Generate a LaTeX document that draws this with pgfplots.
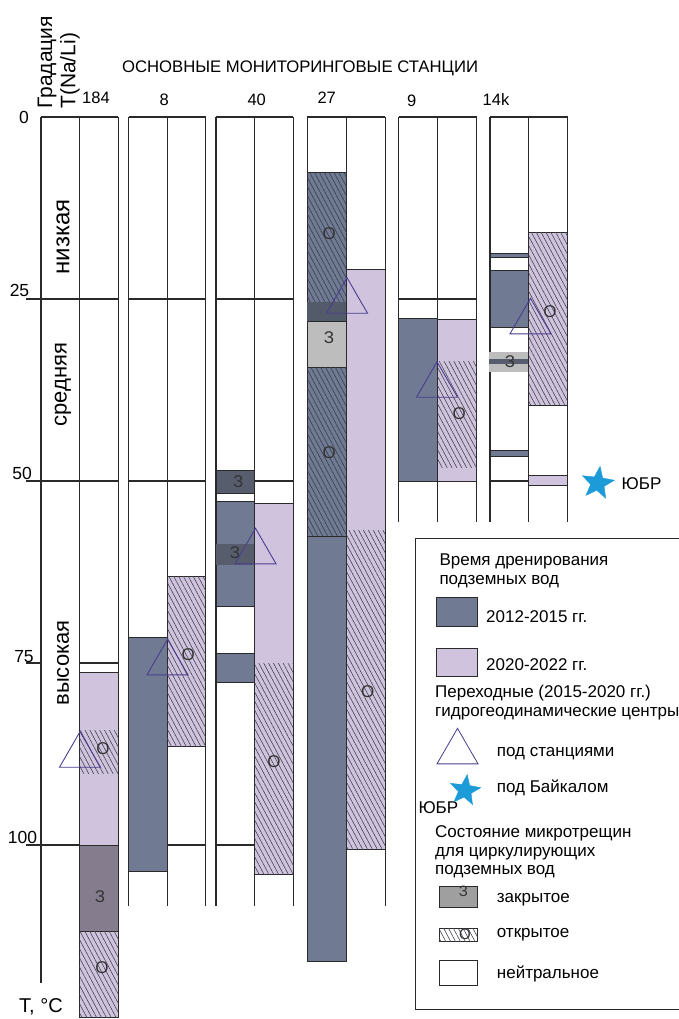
\documentclass[border=0pt]{standalone}
\usepackage{fontspec}
\setmainfont{Liberation Sans}
\usepackage{pgfplots}
\pgfplotsset{compat=1.18}
\usetikzlibrary{patterns.meta}

\definecolor{early}{HTML}{707A93}
\definecolor{late}{HTML}{CFC3DE}
\definecolor{edge}{HTML}{2A2A2A}
\definecolor{tri}{HTML}{4A3D8F}
\definecolor{rift}{HTML}{1C9BD8}
\definecolor{shutlight}{HTML}{BDBDBD}
\definecolor{shutdark}{HTML}{575D6C}
\definecolor{shutlate}{HTML}{857D8E}
\definecolor{band}{HTML}{535A6A}
\definecolor{hatchA}{HTML}{45454F}
\definecolor{hatchB}{HTML}{363D4E}

% open triangle whose circumradius is the mark size
\pgfdeclareplotmark{otri}{%
  \pgfpathmoveto{\pgfpointpolar{90}{\pgfplotmarksize}}%
  \pgfpathlineto{\pgfpointpolar{210}{\pgfplotmarksize}}%
  \pgfpathlineto{\pgfpointpolar{330}{\pgfplotmarksize}}%
  \pgfpathclose\pgfusepathqstroke}
% filled five-pointed star
\pgfdeclareplotmark{bstar}{%
  \pgfpathmoveto{\pgfpointpolar{82}{\pgfplotmarksize}}%
  \pgfpathlineto{\pgfpointpolar{118}{0.42\pgfplotmarksize}}%
  \pgfpathlineto{\pgfpointpolar{154}{\pgfplotmarksize}}%
  \pgfpathlineto{\pgfpointpolar{190}{0.42\pgfplotmarksize}}%
  \pgfpathlineto{\pgfpointpolar{226}{\pgfplotmarksize}}%
  \pgfpathlineto{\pgfpointpolar{262}{0.42\pgfplotmarksize}}%
  \pgfpathlineto{\pgfpointpolar{298}{\pgfplotmarksize}}%
  \pgfpathlineto{\pgfpointpolar{334}{0.42\pgfplotmarksize}}%
  \pgfpathlineto{\pgfpointpolar{10}{\pgfplotmarksize}}%
  \pgfpathlineto{\pgfpointpolar{46}{0.42\pgfplotmarksize}}%
  \pgfpathclose\pgfusepathqfillstroke}

% rectangle spanning x1..x2 and temperature T1..T2
\newcommand{\blk}[5][]{\addplot[#1] coordinates {(#2,#4) (#3,#4) (#3,#5) (#2,#5)} -- cycle;}
% straight segment
\newcommand{\seg}[4]{\addplot[gridln] coordinates {(#1,#2) (#3,#4)};}

\tikzset{
  gridln/.style={draw=edge, line width=1.1pt},
  e12/.style={fill=early, draw=edge, line width=0.9pt},
  e20/.style={fill=late, draw=edge, line width=0.9pt},
  hatch/.style={draw=none, pattern={Lines[angle=-62,distance=4.3pt,line width=0.6pt]}, pattern color=hatchA},
  hatchd/.style={draw=none, pattern={Lines[angle=-62,distance=4.3pt,line width=0.6pt]}, pattern color=hatchB},
  txt/.style={font=\fontsize{17}{20}\selectfont, text=black, inner sep=0pt},
  mk/.style={font=\fontsize{17}{20}\selectfont, text=black!80, inner sep=0pt},
  tk/.style={font=\fontsize{16.5}{19}\selectfont, text=black, inner sep=0pt},
}

\begin{document}
\begin{tikzpicture}
\begin{axis}[
  scale only axis, width=678pt, height=1019pt,
  xmin=0, xmax=678, ymin=-16.071, ymax=123.901,
  y dir=reverse, hide axis, clip=false,
]
% ---- column frames ----
% 184
\seg{41}{0}{118.3}{0}
\seg{41}{0}{41}{118.96}
\seg{79.3}{0}{79.3}{123.72}
\seg{118.3}{0}{118.3}{123.72}
% 8
\seg{128.7}{0}{205.7}{0}
\seg{128.7}{0}{128.7}{108.38}
\seg{167.3}{0}{167.3}{108.38}
\seg{205.7}{0}{205.7}{108.38}
% 40
\seg{216}{0}{293.3}{0}
\seg{216}{0}{216}{108.38}
\seg{254.7}{0}{254.7}{108.38}
\seg{293.3}{0}{293.3}{108.38}
% 27
\seg{307.3}{0}{385.3}{0}
\seg{307.3}{0}{307.3}{116.03}
\seg{346.7}{0}{346.7}{116.03}
\seg{385.3}{0}{385.3}{108.38}
% 9
\seg{398.7}{0}{476.7}{0}
\seg{398.7}{0}{398.7}{55.63}
\seg{437.7}{0}{437.7}{55.63}
\seg{476.7}{0}{476.7}{55.63}
% 14k
\seg{490}{0}{567.7}{0}
\seg{490}{0}{490}{55.63}
\seg{528.7}{0}{528.7}{55.63}
\seg{567.7}{0}{567.7}{55.63}
% ---- gradation levels ----
\seg{26}{25}{118.3}{25}
\seg{128.7}{25}{205.7}{25}
\seg{216}{25}{293.3}{25}
\seg{398.7}{25}{476.7}{25}
\seg{26}{50}{118.3}{50}
\seg{128.7}{50}{205.7}{50}
\seg{254.7}{50}{293.3}{50}
\seg{490}{50}{528.7}{50}
\seg{26}{75}{41}{75}
\seg{79.3}{75}{118.3}{75}
\seg{26}{100}{79.3}{100}
\seg{167.3}{100}{205.7}{100}
\seg{216}{100}{254.7}{100}

% ---- station 184 ----
\blk[e20]{79.3}{118.3}{76.33}{100}
\blk[hatch]{79.3}{118.3}{84.27}{90.18}
\blk[fill=shutlate, draw=edge, line width=0.9pt]{79.3}{118.3}{100}{111.91}
\blk[e20]{79.3}{118.3}{111.91}{123.72}
\blk[hatch]{79.3}{118.3}{111.91}{123.72}
% ---- station 8 ----
\blk[e12]{128.7}{167.3}{71.47}{103.57}
\blk[e20]{167.3}{205.7}{63.15}{86.50}
\blk[hatch]{167.3}{205.7}{63.15}{86.50}
% ---- station 40 ----
\blk[fill=shutdark, draw=edge, line width=0.9pt]{216}{254.7}{48.49}{51.69}
\blk[e12]{216}{254.7}{52.84}{67.27}
\blk[fill=shutdark, draw=none]{216}{254.7}{58.65}{61.54}
\blk[e12]{216}{254.7}{73.67}{77.68}
\blk[e20]{254.7}{293.3}{53.02}{104.0}
\blk[hatch]{254.7}{293.3}{75.04}{104.0}
% ---- station 27 ----
\blk[e12]{307.3}{346.7}{7.65}{57.55}
\blk[hatchd]{307.3}{346.7}{7.65}{25.37}
\blk[fill=band, draw=none]{307.3}{346.7}{25.37}{28.12}
\blk[fill=shutlight, draw=edge, line width=0.5pt]{307.3}{346.7}{28.12}{34.44}
\blk[hatchd]{307.3}{346.7}{34.44}{57.55}
\blk[e12]{307.3}{346.7}{57.55}{116.03}
\blk[e20]{346.7}{385.3}{20.92}{100.59}
\blk[hatch]{346.7}{385.3}{56.83}{100.59}
% ---- station 9 ----
\blk[e12]{398.7}{437.7}{27.65}{50}
\blk[e20]{437.7}{476.7}{27.79}{50}
\blk[hatch]{437.7}{476.7}{33.61}{48.17}
% ---- station 14k ----
\blk[e12]{490}{528.7}{18.72}{19.27}
\blk[e12]{490}{528.7}{21.02}{28.94}
\blk[fill=shutlight, draw=none]{489}{529}{32.24}{34.99}
\blk[fill=shutdark, draw=none]{489}{529}{33.24}{33.93}
\blk[e12]{490}{528.7}{45.84}{46.57}
\blk[e20]{528.7}{567.7}{15.89}{39.56}
\blk[hatch]{528.7}{567.7}{15.89}{39.56}
\blk[e20]{528.7}{567.7}{49.18}{50.55}

% ---- transitional centres under stations ----
\addplot[only marks, mark=otri, mark size=23.7pt,
  mark options={draw=tri, line width=0.9pt}]
  coordinates {(80,87.69) (167.5,75.0) (255.5,59.75) (347,25.33) (437,36.87) (530.5,28.16)};
% ---- centre under Baikal ----
\addplot[only marks, mark=bstar, mark size=17pt,
  mark options={fill=rift, draw=rift, line width=0.4pt}]
  coordinates {(597.7,50.3)};
\node[txt, anchor=west] at (621.5,50.3) {ЮБР};

% ---- microfracture state marks ----
\node[mk] at (100,107.1) {З};
\node[mk] at (102,116.9) {О};
\node[mk] at (103,86.8) {О};
\node[mk] at (188.3,73.8) {О};
\node[mk] at (238.3,50.1) {З};
\node[mk] at (235,59.9) {З};
\node[mk] at (274,88.6) {О};
\node[mk] at (329.3,16.07) {О};
\node[mk] at (329,30.27) {З};
\node[mk] at (329.3,46.15) {О};
\node[mk] at (367.7,79.0) {О};
\node[mk] at (459.3,40.7) {О};
\node[mk] at (510,33.65) {З};
\node[mk] at (550,26.74) {О};

% ---- titles and scale ----
\node[txt, font=\fontsize{16.7}{20}\selectfont] at (300,-6.69) {ОСНОВНЫЕ МОНИТОРИНГОВЫЕ СТАНЦИИ};
\node[tk] at (96,-2.6) {184};
\node[tk] at (164.3,-2.4) {8};
\node[tk] at (256.7,-2.4) {40};
\node[tk] at (326.7,-2.6) {27};
\node[tk] at (411.7,-2.2) {9};
\node[tk] at (496,-2.4) {14k};
\node[tk, rotate=90, anchor=west, font=\fontsize{21}{24}\selectfont] at (47,-1.1) {Градация};
\node[tk, rotate=90, anchor=west, font=\fontsize{21}{24}\selectfont] at (70,-1.1) {T(Na/Li)};
\node[tk, font=\fontsize{17.5}{20}\selectfont] at (24,0.1) {0};
\node[tk, font=\fontsize{17.5}{20}\selectfont] at (19.5,23.8) {25};
\node[tk, font=\fontsize{17.5}{20}\selectfont] at (22.2,48.9) {50};
\node[tk, font=\fontsize{17.5}{20}\selectfont] at (24,74.1) {75};
\node[tk, font=\fontsize{17.5}{20}\selectfont] at (22.5,98.9) {100};
\node[tk, font=\fontsize{20}{24}\selectfont] at (41,122.2) {T, °C};
\node[tk, rotate=90, font=\fontsize{24}{28}\selectfont] at (63,16.5) {низкая};
\node[tk, rotate=90, font=\fontsize{22}{26}\selectfont] at (63,36.8) {средняя};
\node[tk, rotate=90, font=\fontsize{22}{26}\selectfont] at (63,75.0) {высокая};

% ---- key ----
\blk[fill=white, draw=edge, line width=0.9pt]{415}{700}{57.87}{122.53}
\node[txt, anchor=west] at (439.3,61.09) {Время дренирования};
\node[txt, anchor=west] at (439.3,63.83) {подземных вод};
\blk[e12]{436.7}{477.3}{65.98}{70.01}
\node[txt, anchor=west] at (486,68.64) {2012-2015 гг.};
\blk[e20]{436.7}{477.3}{72.98}{76.88}
\node[txt, anchor=west] at (486,75.27) {2020-2022 гг.};
\node[txt, anchor=west] at (435,79.16) {Переходные (2015-2020 гг.)};
\node[txt, anchor=west] at (435,81.91) {гидрогеодинамические центры};
\addplot[only marks, mark=otri, mark size=23.7pt,
  mark options={draw=tri, line width=0.8pt}]
  coordinates {(457.5,87.23)};
\node[txt, anchor=west] at (496.7,87.4) {под станциями};
\addplot[only marks, mark=bstar, mark size=16pt,
  mark options={fill=rift, draw=rift, line width=0.4pt}]
  coordinates {(465,92.5)};
\node[txt, anchor=west] at (496.7,92.21) {под Байкалом};
\node[txt, anchor=west] at (418.3,94.82) {ЮБР};
\node[txt, anchor=west] at (435,98.39) {Состояние микротрещин};
\node[txt, anchor=west] at (435,101.14) {для циркулирующих};
\node[txt, anchor=west] at (435,103.67) {подземных вод};
\blk[fill=gray!75, draw=edge, line width=0.9pt]{439}{477.3}{105.63}{108.56}
\node[mk, font=\fontsize{15}{18}\selectfont] at (463.3,106.3) {З};
\node[txt, anchor=west] at (496.7,107.55) {закрытое};
\blk[fill=white, draw=edge, line width=0.9pt]{439}{477.3}{111.44}{113.19}
\blk[hatch]{439}{477.3}{111.44}{113.19}
\node[mk, font=\fontsize{15}{18}\selectfont] at (465,112.3) {О};
\node[txt, anchor=west] at (496.7,112.36) {открытое};
\blk[fill=white, draw=edge, line width=0.9pt]{439}{477.3}{115.8}{119.33}
\node[txt, anchor=west] at (496.7,117.76) {нейтральное};
\end{axis}
\pgfresetboundingbox
\path[use as bounding box] (current axis.south west) rectangle (current axis.north east);
\end{tikzpicture}
\end{document}
